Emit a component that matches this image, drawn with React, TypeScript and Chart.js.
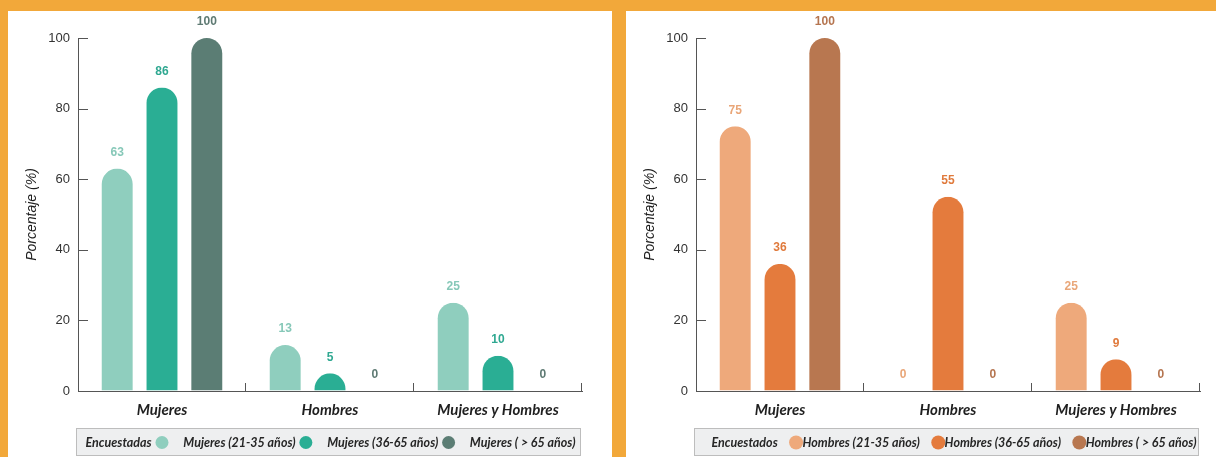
import React, { useEffect, useRef } from "react";
import { Chart, registerables } from "chart.js";

Chart.register(...registerables);

// ---------- data ----------
const categories = ["Mujeres", "Hombres", "Mujeres y Hombres"];
const yTickStep = 20;
const yMax = 100;
const yTitle = "Porcentaje (%)";

const womenLegendTitle = "Encuestadas";
const womenSeriesNames = ["Mujeres (21-35 años)", "Mujeres (36-65 años)", "Mujeres ( > 65 años)"];
const women21to35 = [63, 13, 25];
const women36to65 = [86, 5, 10];
const womenOver65 = [100, 0, 0];

const menLegendTitle = "Encuestados";
const menSeriesNames = ["Hombres (21-35 años)", "Hombres (36-65 años)", "Hombres ( > 65 años)"];
const men21to35 = [75, 0, 25];
const men36to65 = [36, 55, 9];
const menOver65 = [100, 0, 0];

const womenColors = ["#8FCEBE", "#2AAE94", "#5B7D74"];
const womenLabelColors = ["#86C8B8", "#2FA891", "#5E7A73"];
const menColors = ["#EEA97B", "#E47B3D", "#B87750"];
const menLabelColors = ["#E9A678", "#E07A3C", "#B57550"];

const ORANGE = "#F2A83A";
const PANEL_W = 604;
const PANEL_H = 446;

type PanelProps = {
  series: number[][];
  names: string[];
  colors: string[];
  labelColors: string[];
  legendTitle: string;
  legendCfg: { start: number; gapTC: number; gapCT: number; r: number; end: number };
};

function Panel({ series, names, colors, labelColors, legendTitle, legendCfg }: PanelProps) {
  const ref = useRef<HTMLCanvasElement | null>(null);

  useEffect(() => {
    const canvas = ref.current;
    if (!canvas) return;

    const customPlugin = {
      id: "customDraw",
      beforeDatasetDraw() {
        return false;
      },
      afterDatasetsDraw(chart: any) {
        const ctx = chart.ctx;
        chart.data.datasets.forEach((ds: any, di: number) => {
          const meta = chart.getDatasetMeta(di);
          meta.data.forEach((el: any, i: number) => {
            const { x, y, base, width } = el.getProps(["x", "y", "base", "width"], true);
            const left = x - width / 2;
            const right = x + width / 2;
            const r = width / 2;
            if (base - y > 0.5) {
              ctx.save();
              ctx.beginPath();
              ctx.rect(left - 1, y, width + 2, base - y);
              ctx.clip();
              ctx.beginPath();
              ctx.moveTo(left, base);
              ctx.lineTo(left, y + r);
              ctx.arc(x, y + r, r, Math.PI, 0, false);
              ctx.lineTo(right, base);
              ctx.closePath();
              ctx.fillStyle = ds.backgroundColor;
              ctx.fill();
              ctx.restore();
            }
            // value label
            ctx.save();
            ctx.font = "bold 12px Arial, 'Liberation Sans', sans-serif";
            ctx.fillStyle = labelColors[di];
            ctx.textAlign = "center";
            ctx.textBaseline = "middle";
            ctx.fillText(String(ds.data[i]), x, y - 16);
            ctx.restore();
          });
        });
      },
      afterDraw(chart: any) {
        const ctx = chart.ctx;
        const area = chart.chartArea;
        const ys = chart.scales.y;
        ctx.save();
        ctx.strokeStyle = "#555";
        ctx.lineWidth = 1;
        // inward y ticks
        ys.ticks.forEach((t: any) => {
          if (t.value === 0) return;
          const py = Math.round(ys.getPixelForValue(t.value)) + 0.5;
          ctx.beginPath();
          ctx.moveTo(area.left, py);
          ctx.lineTo(area.left + 10, py);
          ctx.stroke();
        });
        // inward x boundary ticks
        const n = categories.length;
        for (let i = 1; i <= n; i++) {
          const px = Math.round(area.left + ((area.right - area.left) * i) / n) - 0.5;
          ctx.beginPath();
          ctx.moveTo(px, area.bottom);
          ctx.lineTo(px, area.bottom - 8);
          ctx.stroke();
        }
        ctx.restore();

        // legend box
        const bx = 68.5, by = 417.5, bw = 504, bh = 27;
        ctx.save();
        ctx.fillStyle = "#EEEFF0";
        ctx.fillRect(bx, by, bw, bh);
        ctx.strokeStyle = "#BDBDBD";
        ctx.lineWidth = 1;
        ctx.strokeRect(bx, by, bw, bh);
        ctx.font = "italic bold 12.5px Lato, 'Noto Sans', sans-serif";
        ctx.textBaseline = "middle";
        ctx.textAlign = "left";
        const cy = by + bh / 2 + 0.5;
        const texts = [legendTitle, ...names];
        const widths = texts.map((t) => ctx.measureText(t).width);
        const { start, gapTC, gapCT, r, end } = legendCfg;
        const natural = widths.reduce((a, b) => a + b, 0) + 3 * (gapTC + 2 * r + gapCT);
        const extra = (end - start - natural) / 6;
        let cx = bx + start;
        texts.forEach((t, k) => {
          ctx.fillStyle = "#262626";
          ctx.fillText(t, cx, cy);
          cx += widths[k];
          if (k < names.length) {
            cx += gapTC + extra;
            ctx.beginPath();
            ctx.arc(cx + r, cy, r, 0, Math.PI * 2);
            ctx.fillStyle = colors[k];
            ctx.fill();
            cx += 2 * r + gapCT + extra;
          }
        });
        ctx.restore();
      },
    };

    const chart = new Chart(canvas, {
      type: "bar",
      data: {
        labels: categories,
        datasets: series.map((vals, i) => ({
          label: names[i],
          data: vals,
          backgroundColor: colors[i],
          categoryPercentage: 0.8,
          barPercentage: 0.69,
        })),
      },
      options: {
        responsive: false,
        maintainAspectRatio: false,
        animation: false,
        devicePixelRatio: 1,
        layout: { padding: { top: 27, right: 30, left: 0, bottom: 0 } },
        plugins: {
          legend: { display: false },
          tooltip: { enabled: false },
        },
        scales: {
          x: {
            grid: { display: true, drawOnChartArea: false, drawTicks: false },
            border: { display: true, color: "#555", width: 1 },
            ticks: {
              padding: 10,
              color: "#1f1f1f",
              font: { family: "Lato, 'Noto Sans', sans-serif", size: 15, style: "italic", weight: "bold" },
            },
            afterFit: (s: any) => {
              s.height = 66;
            },
          },
          y: {
            min: 0,
            max: yMax,
            grid: { display: true, drawOnChartArea: false, drawTicks: false },
            border: { display: true, color: "#555", width: 1 },
            ticks: {
              stepSize: yTickStep,
              padding: 8,
              color: "#333",
              font: { family: "Arial, 'Liberation Sans', sans-serif", size: 13 },
            },
            title: {
              display: true,
              text: yTitle,
              color: "#1f1f1f",
              font: { family: "Arial, 'Liberation Sans', sans-serif", size: 14, style: "italic" },
              padding: { top: 16, bottom: 0 },
            },
            afterFit: (s: any) => {
              s.width = 70;
            },
          },
        },
      },
      plugins: [customPlugin],
    } as any);

    return () => chart.destroy();
  }, []);

  return <canvas ref={ref} width={PANEL_W} height={PANEL_H} style={{ width: PANEL_W, height: PANEL_H, display: "block" }} />;
}

export default function App() {
  return (
    <div style={{ position: "fixed", left: 0, top: 0, width: 1216, height: 457, background: ORANGE, overflow: "hidden" }}>
      <div style={{ position: "absolute", left: 8, top: 11, width: PANEL_W, height: PANEL_H, background: "#fff" }}>
        <Panel
          series={[women21to35, women36to65, womenOver65]}
          names={womenSeriesNames}
          colors={womenColors}
          labelColors={womenLabelColors}
          legendTitle={womenLegendTitle}
          legendCfg={{ start: 9, gapTC: 8, gapCT: 19, r: 6.5, end: 499 }}
        />
      </div>
      <div style={{ position: "absolute", left: 626, top: 11, width: PANEL_W, height: PANEL_H, background: "#fff" }}>
        <Panel
          series={[men21to35, men36to65, menOver65]}
          names={menSeriesNames}
          colors={menColors}
          labelColors={menLabelColors}
          legendTitle={menLegendTitle}
          legendCfg={{ start: 17, gapTC: 16, gapCT: 4, r: 7, end: 502 }}
        />
      </div>
    </div>
  );
}
